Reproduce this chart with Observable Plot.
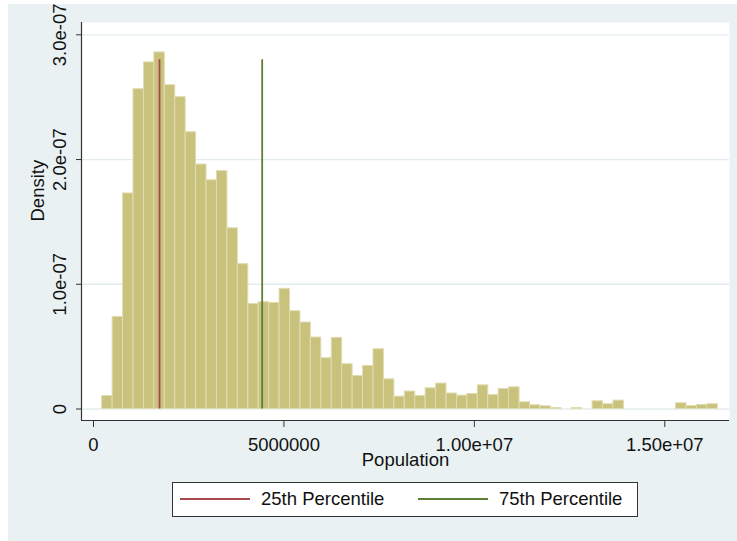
<!DOCTYPE html>
<html>
<head>
<meta charset="utf-8">
<script src="https://cdn.jsdelivr.net/npm/d3@7"></script>
<script src="https://cdn.jsdelivr.net/npm/@observablehq/plot@0.6"></script>
<style>
  body { margin: 0; background: #fff; font-family: "Liberation Sans", Arial, sans-serif; }
  #wrap { position: relative; width: 737px; height: 541px; overflow: hidden; }
  #bg { position: absolute; left: 8px; top: 4px; right: 0; bottom: 0; background: #e9f1f3; }
  #chart { position: absolute; left: 0; top: 0; }
  #legend { position: absolute; left: 172px; top: 482px; width: 464px; height: 33px; border: 1px solid #333; background: #fff; }
  .sw { position: absolute; height: 2px; width: 70px; }
  .lt { position: absolute; font-size: 18.5px; line-height: 20px; color: #111; white-space: nowrap; }
</style>
</head>
<body>
<div id="wrap">
  <div id="bg"></div>
  <div id="chart"></div>
  <div id="legend"></div>
</div>
<script>
// Histogram densities (one value per bin, left to right)
const densities = [
  0.104e-7, 0.738e-7, 1.728e-7, 2.564e-7, 2.779e-7, 2.859e-7, 2.596e-7, 2.500e-7, 2.219e-7, 1.960e-7,
  1.834e-7, 1.907e-7, 1.449e-7, 1.161e-7, 0.842e-7, 0.856e-7, 0.850e-7, 0.963e-7, 0.784e-7, 0.693e-7,
  0.573e-7, 0.407e-7, 0.570e-7, 0.359e-7, 0.265e-7, 0.345e-7, 0.479e-7, 0.238e-7, 0.099e-7, 0.140e-7,
  0.104e-7, 0.166e-7, 0.204e-7, 0.124e-7, 0.107e-7, 0.120e-7, 0.190e-7, 0.112e-7, 0.160e-7, 0.174e-7,
  0.054e-7, 0.030e-7, 0.022e-7, 0.008e-7, 0, 0.008e-7, 0, 0.062e-7, 0.038e-7, 0.067e-7,
  0, 0, 0, 0, 0, 0.046e-7, 0.024e-7, 0.032e-7, 0.038e-7
];
const binStart = 228400;
const binWidth = 273960;

const xTicks = [0, 5000000, 10000000, 15000000];
const xTickLabels = ["0", "5000000", "1.00e+07", "1.50e+07"];
const yTicks = [0, 1e-7, 2e-7, 3e-7];
const yTickLabels = ["0", "1.0e-07", "2.0e-07", "3.0e-07"];

const percentileNames = ["25th Percentile", "75th Percentile"];
const percentileValues = [1733000, 4429000];
const percentileTop = 2.8e-7;
const percentileColors = ["#a9484c", "#5e7e36"];

const xDomain = [-315100, 16699000];
const yDomain = [-0.0922e-7, 3.0987e-7];

const bins = densities
  .map((d, i) => ({x1: binStart + i * binWidth, x2: binStart + (i + 1) * binWidth, y: d}))
  .filter(b => b.y > 0);

const chart = Plot.plot({
  width: 737,
  height: 475,
  marginLeft: 81,
  marginRight: 8,
  marginTop: 22,
  marginBottom: 55,
  style: {background: "transparent", fontFamily: "Liberation Sans, Arial, sans-serif", fontSize: "18.5px", color: "#111", overflow: "visible"},
  x: {domain: xDomain},
  y: {domain: yDomain},
  marks: [
    Plot.frame({fill: "white", stroke: null}),
    Plot.gridY(yTicks, {stroke: "#e3ecef", strokeOpacity: 1, strokeWidth: 1.3}),
    Plot.rectY(bins, {x1: "x1", x2: "x2", y: "y", fill: "#c9c27d", stroke: "#e0dcb0", strokeWidth: 1}),
    ...percentileValues.map((v, i) =>
      Plot.ruleX([v], {y1: 0, y2: percentileTop, stroke: percentileColors[i], strokeWidth: 1.8})),
    Plot.axisX({ticks: xTicks, tickFormat: d => xTickLabels[xTicks.indexOf(d)], tickSize: 7, tickPadding: 10, fontSize: 18.5, label: null, stroke: "#333"}),
    Plot.axisY({ticks: yTicks, tickFormat: d => yTickLabels[yTicks.indexOf(d)], tickSize: 5, tickPadding: 11, tickRotate: -90, fontSize: 18.5, label: null, stroke: "#333"}),
    Plot.ruleY([yDomain[0]], {stroke: "#333", strokeWidth: 1.2}),
    Plot.ruleX([xDomain[0]], {stroke: "#333", strokeWidth: 1.2}),
    Plot.text(["Population"], {frameAnchor: "bottom", dy: 45, fontSize: 18.5, fill: "#111"}),
    Plot.text(["Density"], {frameAnchor: "left", dx: -43, rotate: -90, fontSize: 18.5, fill: "#111"})
  ]
});
document.getElementById("chart").appendChild(chart);

// Legend built from the percentile arrays
const wrap = document.getElementById("wrap");
const swatchLeft = [180, 418];
const textLeft = [261, 499];
percentileNames.forEach((name, i) => {
  const sw = document.createElement("div");
  sw.className = "sw";
  sw.style.left = swatchLeft[i] + "px";
  sw.style.top = "498px";
  sw.style.background = percentileColors[i];
  wrap.appendChild(sw);
  const t = document.createElement("div");
  t.className = "lt";
  t.style.left = textLeft[i] + "px";
  t.style.top = "489px";
  t.textContent = name;
  wrap.appendChild(t);
});
</script>
</body>
</html>
